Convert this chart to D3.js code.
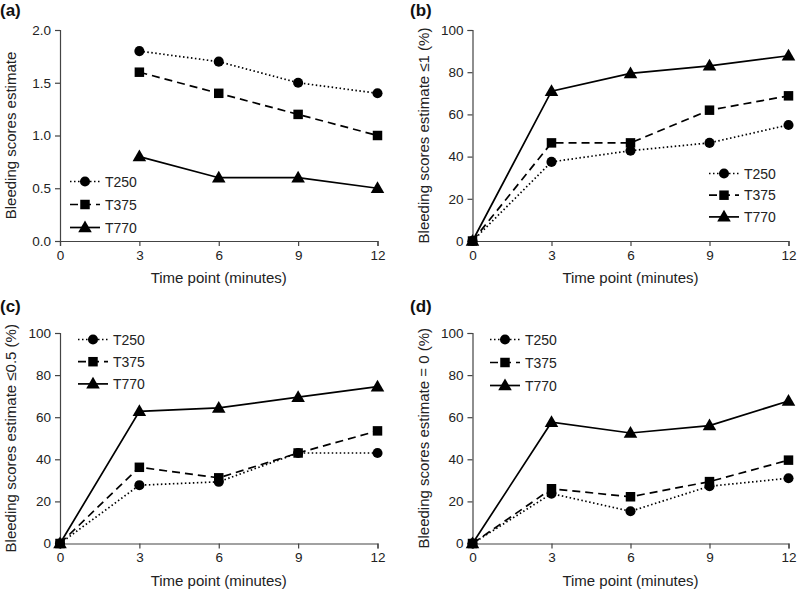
<!DOCTYPE html>
<html><head><meta charset="utf-8">
<script src="https://cdn.jsdelivr.net/npm/d3@7"></script>
<style>
body{margin:0;background:#fff;}
svg{display:block;font-family:"Liberation Sans",Arial,sans-serif;}
</style></head>
<body><svg id="c" width="798" height="592"></svg>
<script>
// ---- data ----
const seriesNames = ["T250", "T375", "T770"];
const timeA = [3, 6, 9, 12];
const timeBCD = [0, 3, 6, 9, 12];
const xTicks = [0, 3, 6, 9, 12];
const yTicksA = [0, 0.5, 1.0, 1.5, 2.0];
const yTicksPct = [0, 20, 40, 60, 80, 100];

const aT250 = [1.8, 1.7, 1.5, 1.4];
const aT375 = [1.6, 1.4, 1.2, 1.0];
const aT770 = [0.8, 0.6, 0.6, 0.5];

const bT250 = [0, 37.5, 42.8, 46.5, 55.0];
const bT375 = [0, 46.5, 46.5, 62.0, 68.8];
const bT770 = [0, 71.0, 79.4, 83.0, 87.8];

const cT250 = [0, 27.7, 29.3, 43.0, 43.0];
const cT375 = [0, 36.2, 31.2, 43.0, 53.5];
const cT770 = [0, 62.8, 64.4, 69.5, 74.5];

const dT250 = [0, 23.7, 15.3, 27.2, 31.0];
const dT375 = [0, 26.0, 22.2, 29.4, 39.6];
const dT770 = [0, 57.6, 52.5, 56.0, 67.7];

const panelLabels = ["(a)", "(b)", "(c)", "(d)"];
const yTitles = ["Bleeding scores estimate", "Bleeding scores estimate \u22641 (%)",
                 "Bleeding scores estimate \u22640.5 (%)", "Bleeding scores estimate = 0 (%)"];
const xTitle = "Time point (minutes)";

// ---- layout ----
const panels = [
  {x0: 60, x1: 377.5, yTop: 30, yBot: 241, ox: 0, oy: 0, dom: [0, 2], yt: yTicksA, fmt: d3.format(".1f"),
   t: timeA, vals: [aT250, aT375, aT770], leg: {x: 70, y: 181.5, dy: 23}},
  {x0: 472.5, x1: 788.5, yTop: 30, yBot: 241, ox: 399, oy: 0, dom: [0, 100], yt: yTicksPct, fmt: d3.format("d"),
   t: timeBCD, vals: [bT250, bT375, bT770], leg: {x: 709, y: 173.5, dy: 21.7}},
  {x0: 60, x1: 377.5, yTop: 333, yBot: 543.5, ox: 0, oy: 296, dom: [0, 100], yt: yTicksPct, fmt: d3.format("d"),
   t: timeBCD, vals: [cT250, cT375, cT770], leg: {x: 78, y: 339.5, dy: 22.2}},
  {x0: 472.5, x1: 788.5, yTop: 333, yBot: 543.5, ox: 399, oy: 296, dom: [0, 100], yt: yTicksPct, fmt: d3.format("d"),
   t: timeBCD, vals: [dT250, dT375, dT770], leg: {x: 490, y: 339.5, dy: 23}}
];
const dashes = ["1.5,2.5", "8,5", null];
const symbols = [d3.symbolCircle, d3.symbolSquare, d3.symbolTriangle];
const symSizes = [80, 90, 80];

const svg = d3.select("#c");
const axisColor = "#444";

panels.forEach((p, i) => {
  const g = svg.append("g");
  const x = d3.scaleLinear().domain([0, 12]).range([p.x0, p.x1]);
  const y = d3.scaleLinear().domain(p.dom).range([p.yBot, p.yTop]);

  const xa = g.append("g").attr("transform", `translate(0,${p.yBot})`)
    .call(d3.axisBottom(x).tickValues(xTicks).tickSize(5).tickPadding(4).tickFormat(d3.format("d")));
  const ya = g.append("g").attr("transform", `translate(${p.x0},0)`)
    .call(d3.axisLeft(y).tickValues(p.yt).tickSize(5).tickPadding(4).tickFormat(p.fmt));
  [xa, ya].forEach(a => {
    a.select(".domain").attr("stroke", axisColor).attr("stroke-width", 1.2);
    a.selectAll(".tick line").attr("stroke", axisColor).attr("stroke-width", 1.2);
    a.selectAll("text").attr("fill", "#222").style("font-size", "13.5px")
      .style("font-family", '"Liberation Sans",Arial,sans-serif');
  });

  g.append("text").attr("x", (p.x0 + p.x1) / 2).attr("y", p.yBot + 42)
    .attr("text-anchor", "middle").style("font-size", "15px").attr("fill", "#222").text(xTitle);
  g.append("text").attr("transform", `translate(${p.x0 - 44},${(p.yTop + p.yBot) / 2}) rotate(-90)`)
    .attr("text-anchor", "middle").style("font-size", "15px").attr("fill", "#222").text(yTitles[i]);
  g.append("text").attr("x", p.ox + (i % 2 ? 11 : 0)).attr("y", p.oy + 16)
    .style("font-size", "17px").style("font-weight", "bold").attr("fill", "#111").text(panelLabels[i]);

  const line = d3.line().x((d, k) => x(p.t[k])).y(d => y(d));
  p.vals.forEach((v, s) => {
    g.append("path").datum(v).attr("d", line).attr("fill", "none").attr("stroke", "#000")
      .attr("stroke-width", 1.7).attr("stroke-dasharray", dashes[s]);
  });
  p.vals.forEach((v, s) => {
    g.selectAll(null).data(v).enter().append("path")
      .attr("transform", (d, k) => `translate(${x(p.t[k])},${y(d) + (s === 2 ? 0.8 : 0)})`)
      .attr("d", d3.symbol().type(symbols[s]).size(symSizes[s])).attr("fill", "#000");
  });

  // legend
  seriesNames.forEach((name, s) => {
    const ly = p.leg.y + s * p.leg.dy;
    g.append("line").attr("x1", p.leg.x).attr("x2", p.leg.x + 30).attr("y1", ly).attr("y2", ly)
      .attr("stroke", "#000").attr("stroke-width", 1.7).attr("stroke-dasharray", dashes[s]);
    g.append("path").attr("transform", `translate(${p.leg.x + 15},${ly + (s === 2 ? 0.8 : 0)})`)
      .attr("d", d3.symbol().type(symbols[s]).size(symSizes[s])).attr("fill", "#000");
    g.append("text").attr("x", p.leg.x + 35).attr("y", ly + 5).style("font-size", "14px")
      .attr("fill", "#222").text(name);
  });
});
</script></body></html>
